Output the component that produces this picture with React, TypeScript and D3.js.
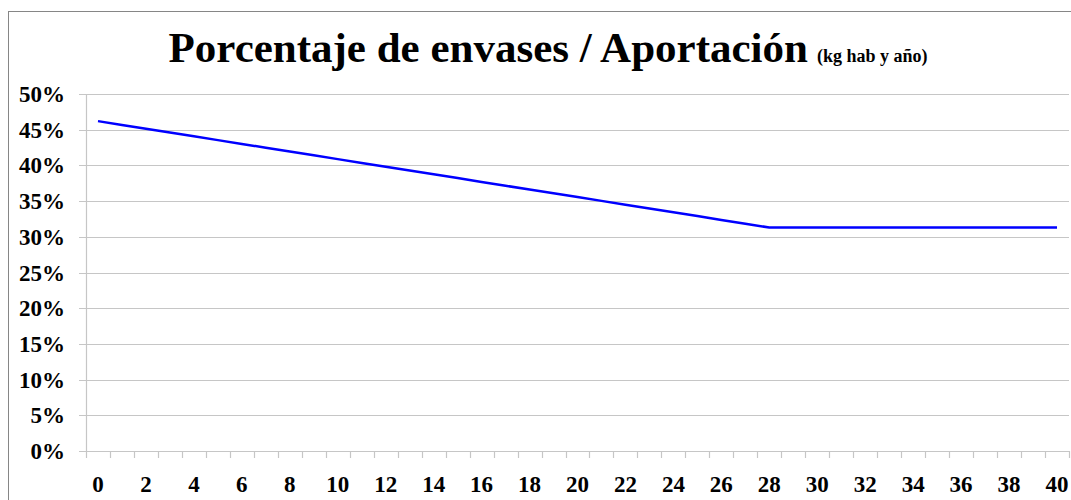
import React, { useRef, useEffect } from 'react';
import * as d3 from 'd3';

// years 0..40
const years: number[] = d3.range(0, 41);
// percentage of packaging
const percent: number[] = [
  46.20, 45.67, 45.14, 44.60, 44.07, 43.54, 43.01, 42.48, 41.94, 41.41,
  40.88, 40.35, 39.81, 39.28, 38.75, 38.22, 37.69, 37.15, 36.62, 36.09,
  35.56, 35.03, 34.49, 33.96, 33.43, 32.90, 32.36, 31.83, 31.30, 31.30,
  31.30, 31.30, 31.30, 31.30, 31.30, 31.30, 31.30, 31.30, 31.30, 31.30,
  31.30,
];
const yTicks: number[] = [0, 5, 10, 15, 20, 25, 30, 35, 40, 45, 50];

const App = () => {
  const svgRef = useRef<SVGSVGElement>(null);

  useEffect(() => {
    const width = 1071;
    const height = 500;
    const margin = { top: 94, right: 2, bottom: 49, left: 86 };

    const svg = d3.select(svgRef.current)
      .attr('width', width)
      .attr('height', height)
      .attr('font-family', 'Liberation Serif')
      .attr('font-weight', 'bold');
    svg.selectAll('*').remove();

    // outer frame
    svg.append('rect')
      .attr('x', 8.5).attr('y', 11.5)
      .attr('width', 1100).attr('height', 600)
      .attr('fill', '#fff')
      .attr('stroke', '#868686');

    const x = d3.scaleBand<number>()
      .domain(years)
      .range([margin.left, width - margin.right]);

    const y = d3.scaleLinear()
      .domain([0, 50])
      .range([height - margin.bottom, margin.top]);

    // gridlines
    svg.append('g')
      .selectAll('line')
      .data(yTicks)
      .enter()
      .append('line')
      .attr('x1', margin.left - 7)
      .attr('x2', width - margin.right)
      .attr('y1', d => Math.round(y(d)) + 0.5)
      .attr('y2', d => Math.round(y(d)) + 0.5)
      .attr('stroke', '#c6c6c6')
      .attr('stroke-width', 1.2);

    // y axis line
    svg.append('line')
      .attr('x1', margin.left + 0.5).attr('x2', margin.left + 0.5)
      .attr('y1', y(50)).attr('y2', y(0))
      .attr('stroke', '#c6c6c6')
      .attr('stroke-width', 1.2);

    // x tick marks at category boundaries
    const bounds = years.map(d => x(d) as number).concat([width - margin.right]);
    svg.append('g')
      .selectAll('line')
      .data(bounds)
      .enter()
      .append('line')
      .attr('x1', d => Math.round(d) + 0.5)
      .attr('x2', d => Math.round(d) + 0.5)
      .attr('y1', y(0))
      .attr('y2', y(0) + 7)
      .attr('stroke', '#c6c6c6')
      .attr('stroke-width', 1.2);

    // y labels
    svg.append('g')
      .selectAll('text')
      .data(yTicks)
      .enter()
      .append('text')
      .attr('x', 65)
      .attr('y', d => y(d))
      .attr('dy', '0.35em')
      .attr('text-anchor', 'end')
      .attr('font-family', 'Liberation Serif')
      .attr('font-size', 23)
      .text(d => d + '%');

    // x labels every 2 years
    svg.append('g')
      .selectAll('text')
      .data(years.filter(d => d % 2 === 0))
      .enter()
      .append('text')
      .attr('x', d => (x(d) as number) + x.bandwidth() / 2)
      .attr('y', 492)
      .attr('text-anchor', 'middle')
      .attr('font-family', 'Liberation Serif')
      .attr('font-size', 23)
      .text(d => d);

    // the line
    const line = d3.line<number>()
      .x((d, i) => (x(years[i]) as number) + x.bandwidth() / 2)
      .y(d => y(d));

    svg.append('path')
      .datum(percent)
      .attr('d', line)
      .attr('fill', 'none')
      .attr('stroke', '#0000ff')
      .attr('stroke-width', 2.5)
      .attr('stroke-linejoin', 'round');

    // title
    const title = svg.append('text')
      .attr('x', 548)
      .attr('y', 62)
      .attr('text-anchor', 'middle')
      .attr('font-family', 'Liberation Serif');
    title.append('tspan')
      .attr('font-size', 43)
      .text('Porcentaje de envases / Aportación');
    title.append('tspan')
      .attr('font-size', 18)
      .text('\u00a0 (kg hab y año)');
  }, []);

  return (
    <div style={{ position: 'absolute', left: 0, top: 0 }}>
      <svg ref={svgRef} style={{ display: 'block' }}></svg>
    </div>
  );
};

export default App;
